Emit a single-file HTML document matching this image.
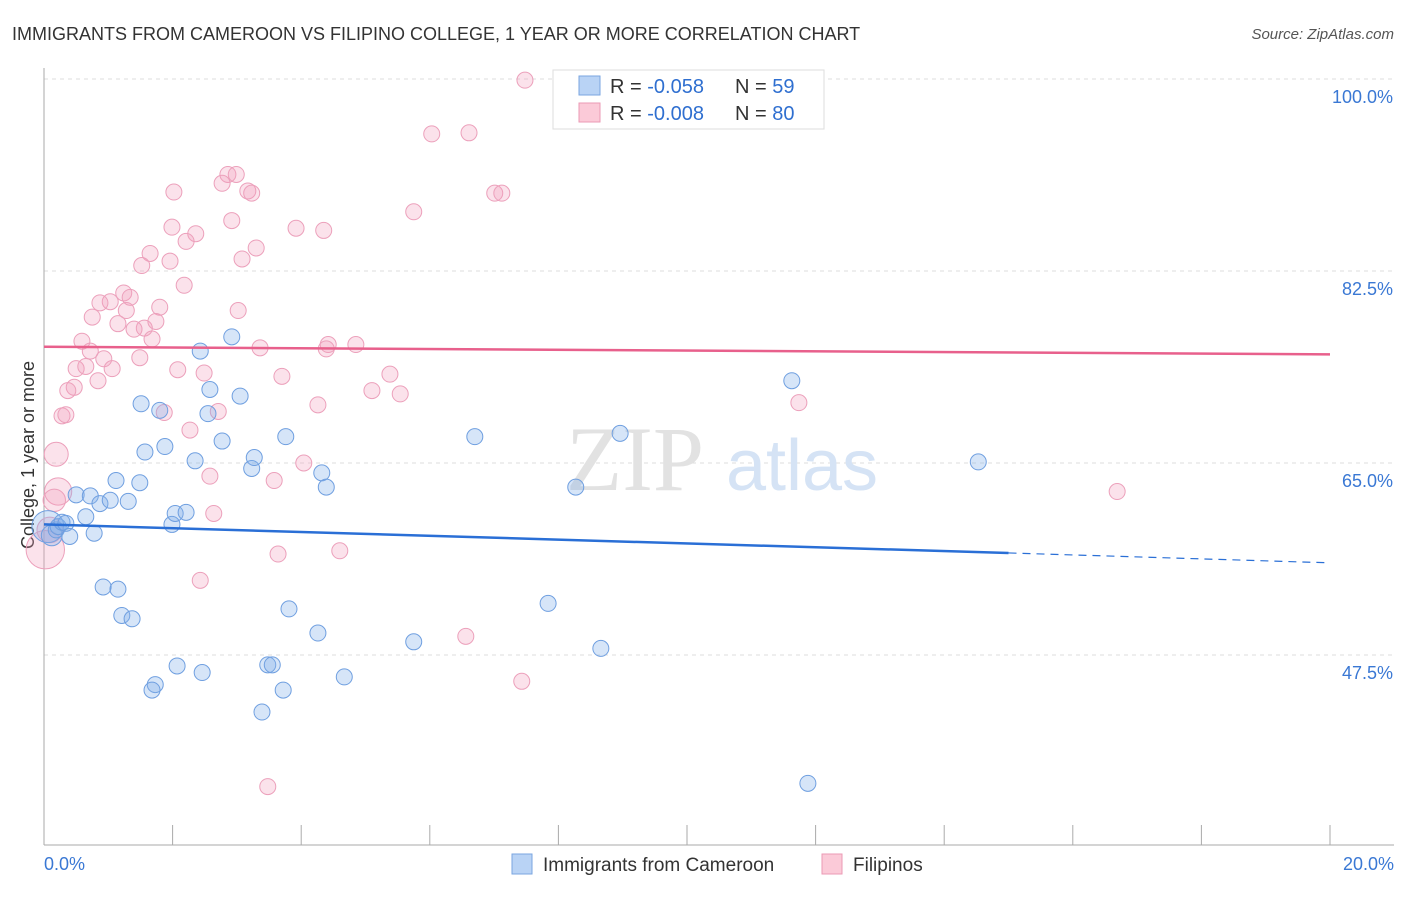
<!DOCTYPE html>
<html><head><meta charset="utf-8"><style>
body{margin:0;background:#fff;font-family:"Liberation Sans",sans-serif}
</style></head><body>
<svg id="chart" width="1406" height="892" xmlns="http://www.w3.org/2000/svg">
<text x="12" y="40" font-size="18" fill="#333">IMMIGRANTS FROM CAMEROON VS FILIPINO COLLEGE, 1 YEAR OR MORE CORRELATION CHART</text>
<text x="1394" y="39" font-size="15" fill="#555" font-style="italic" text-anchor="end">Source: ZipAtlas.com</text>
<text x="34" y="455" font-size="18" fill="#333" text-anchor="middle" transform="rotate(-90 34 455)">College, 1 year or more</text>
<g id="grid"></g>
<g>
<text x="635" y="490" font-size="92" font-family="Liberation Serif,serif" fill="#e2e2e2" text-anchor="middle">ZIP</text>
<text x="802" y="490" font-size="72" fill="#d5e3f5" text-anchor="middle">atlas</text>
</g>
<g id="pts"></g>
<g id="lines"></g>
<g>
<rect x="553" y="70" width="271" height="59" fill="#fff" stroke="#ddd"/>
<rect x="579" y="76" width="21" height="19" fill="#b9d3f5" stroke="#7aa6e0"/>
<rect x="579" y="103" width="21" height="19" fill="#fbcad8" stroke="#eb9ab4"/>
<text x="610" y="93" font-size="20" fill="#333">R = <tspan fill="#2f6fd0">-0.058</tspan><tspan x="735">N = </tspan><tspan fill="#2f6fd0">59</tspan></text>
<text x="610" y="120" font-size="20" fill="#333">R = <tspan fill="#2f6fd0">-0.008</tspan><tspan x="735">N = </tspan><tspan fill="#2f6fd0">80</tspan></text>
</g>
<g>
<rect x="512" y="854" width="20" height="20" fill="#b9d3f5" stroke="#7aa6e0"/>
<text x="543" y="871" font-size="19" fill="#333">Immigrants from Cameroon</text>
<rect x="822" y="854" width="20" height="20" fill="#fbcad8" stroke="#eb9ab4"/>
<text x="853" y="871" font-size="19" fill="#333">Filipinos</text>
</g>
</svg>
<script>
const yTicks=[100,82.5,65,47.5];
const yTickLabels=["100.0%","82.5%","65.0%","47.5%"];
const xTickLabels=["0.0%","20.0%"];
const blueX=[0.06,0.12,0.19,0.22,0.28,0.34,0.40,0.50,0.65,0.72,0.78,0.87,1.03,1.12,1.31,1.49,0.92,1.15,1.21,1.37,1.51,1.57,1.80,1.88,1.99,2.04,2.21,2.35,2.43,2.55,2.58,2.77,2.92,3.05,3.23,3.27,3.76,2.07,1.73,1.68,2.46,3.48,3.55,3.72,3.39,3.81,4.26,4.32,4.39,4.67,5.75,6.70,7.84,8.27,8.66,8.96,11.63,11.88,14.53];
const blueY=[59.2,58.4,58.9,59.2,59.6,59.5,58.3,62.1,60.1,62.0,58.6,61.3,61.6,63.4,61.5,63.2,53.7,53.5,51.1,50.8,70.4,66.0,69.8,66.5,59.4,60.4,60.5,65.2,75.2,69.5,71.7,67.0,76.5,71.1,64.5,65.5,67.4,46.5,44.8,44.3,45.9,46.6,46.6,44.3,42.3,51.7,49.5,64.1,62.8,45.5,48.7,67.4,52.2,62.8,48.1,67.7,72.5,35.8,65.1];
const blueSize=[2,1.3,1,1,1,1,1,1,1,1,1,1,1,1,1,1,1,1,1,1,1,1,1,1,1,1,1,1,1,1,1,1,1,1,1,1,1,1,1,1,1,1,1,1,1,1,1,1,1,1,1,1,1,1,1,1,1,1,1];
const pinkX=[7.48,6.03,6.61,7.01,7.12,5.75,2.86,2.99,2.77,3.17,3.23,2.02,2.92,1.99,2.36,2.21,3.92,4.35,3.30,3.08,1.65,1.52,1.96,2.18,1.24,1.03,0.87,1.34,1.80,0.75,1.28,1.15,1.56,1.40,1.74,3.02,1.68,0.59,0.72,0.93,1.49,1.06,0.50,0.65,0.84,0.47,0.37,0.28,0.34,0.19,0.22,0.16,0.09,0.02,3.36,4.42,4.39,4.85,2.08,2.49,3.70,5.38,5.10,5.54,4.26,2.71,1.87,2.27,2.58,3.58,4.04,2.64,2.43,3.64,4.60,6.56,7.43,3.48,11.74,16.69];
const pinkY=[99.9,95.0,95.1,89.6,89.6,87.9,91.3,91.3,90.5,89.8,89.6,89.7,87.1,86.5,85.9,85.2,86.4,86.2,84.6,83.6,84.1,83.0,83.4,81.2,80.5,79.7,79.6,80.1,79.2,78.3,78.9,77.7,77.3,77.2,77.9,78.9,76.3,76.1,75.2,74.5,74.6,73.6,73.6,73.8,72.5,71.9,71.6,69.3,69.4,65.8,62.4,61.6,58.9,57.1,75.5,75.8,75.4,75.8,73.5,73.2,72.9,73.1,71.6,71.3,70.3,69.7,69.6,68.0,63.8,63.4,65.0,60.4,54.3,56.7,57.0,49.2,45.1,35.5,70.5,62.4];
const pinkSize=[];for(let i=0;i<pinkX.length;i++)pinkSize.push(1);
pinkSize[49]=1.5;pinkSize[50]=1.7;pinkSize[51]=1.4;pinkSize[52]=1.6;pinkSize[53]=2.4;
const blueTrend=[[0,59.4],[15,56.8]], blueDash=[[15,56.8],[20,55.9]];
const pinkTrend=[[0,75.6],[20,74.9]];
const X0=44,X1=1330;
const sx=v=>X0+(X1-X0)*v/20;
const sy=v=>463-(v-65)*10.97;
const NS='http://www.w3.org/2000/svg';
function mk(t,a,p){const e=document.createElementNS(NS,t);for(const k in a)e.setAttribute(k,a[k]);p.appendChild(e);return e;}
const grid=document.getElementById('grid');
yTicks.forEach((v,i)=>{
 const l=mk('line',{x1:X0,x2:1394,y1:sy(v),y2:sy(v),stroke:'#ddd','stroke-dasharray':'4 4'},grid);
 
 
 const t=mk('text',{x:1393,y:sy(v)+24,'font-size':18,fill:'#3a78d4','text-anchor':'end'},grid);
 t.textContent=yTickLabels[i];
 
 
});
const ax=mk('line',{x1:X0,x2:X0,y1:68,y2:845,stroke:'#aaa'},grid);


const bx=mk('line',{x1:X0,x2:1394,y1:845,y2:845,stroke:'#aaa'},grid);


for(let i=0;i<=10;i++){
 const tk=mk('line',{x1:sx(i*2),x2:sx(i*2),y1:825,y2:845,stroke:'#aaa'},grid);
 
 
}
const xl0=mk('text',{x:44,y:870,'font-size':18,fill:'#3a78d4'},grid);xl0.textContent=xTickLabels[0];


const xl1=mk('text',{x:1394,y:870,'font-size':18,fill:'#3a78d4','text-anchor':'end'},grid);xl1.textContent=xTickLabels[1];


const pts=document.getElementById('pts');
pinkX.forEach((x,i)=>{
 const c=mk('circle',{cx:sx(x),cy:sy(pinkY[i]),r:8*pinkSize[i],fill:'rgba(242,160,188,0.3)',stroke:'#eca0bb','stroke-width':1},pts);
 
 
});
blueX.forEach((x,i)=>{
 const c=mk('circle',{cx:sx(x),cy:sy(blueY[i]),r:8*blueSize[i],fill:'rgba(130,175,235,0.33)',stroke:'#6f9fe0','stroke-width':1},pts);
 
 
});
const lines=document.getElementById('lines');
const bl=mk('line',{x1:sx(blueTrend[0][0]),y1:sy(blueTrend[0][1]),x2:sx(blueTrend[1][0]),y2:sy(blueTrend[1][1]),stroke:'#2a6fd6','stroke-width':2.5},lines);


const bd=mk('line',{x1:sx(blueDash[0][0]),y1:sy(blueDash[0][1]),x2:sx(blueDash[1][0]),y2:sy(blueDash[1][1]),stroke:'#2a6fd6','stroke-width':1.2,'stroke-dasharray':'8 6'},lines);


const pl=mk('line',{x1:sx(pinkTrend[0][0]),y1:sy(pinkTrend[0][1]),x2:sx(pinkTrend[1][0]),y2:sy(pinkTrend[1][1]),stroke:'#e8608c','stroke-width':2.5},lines);


</script>
</body></html>
